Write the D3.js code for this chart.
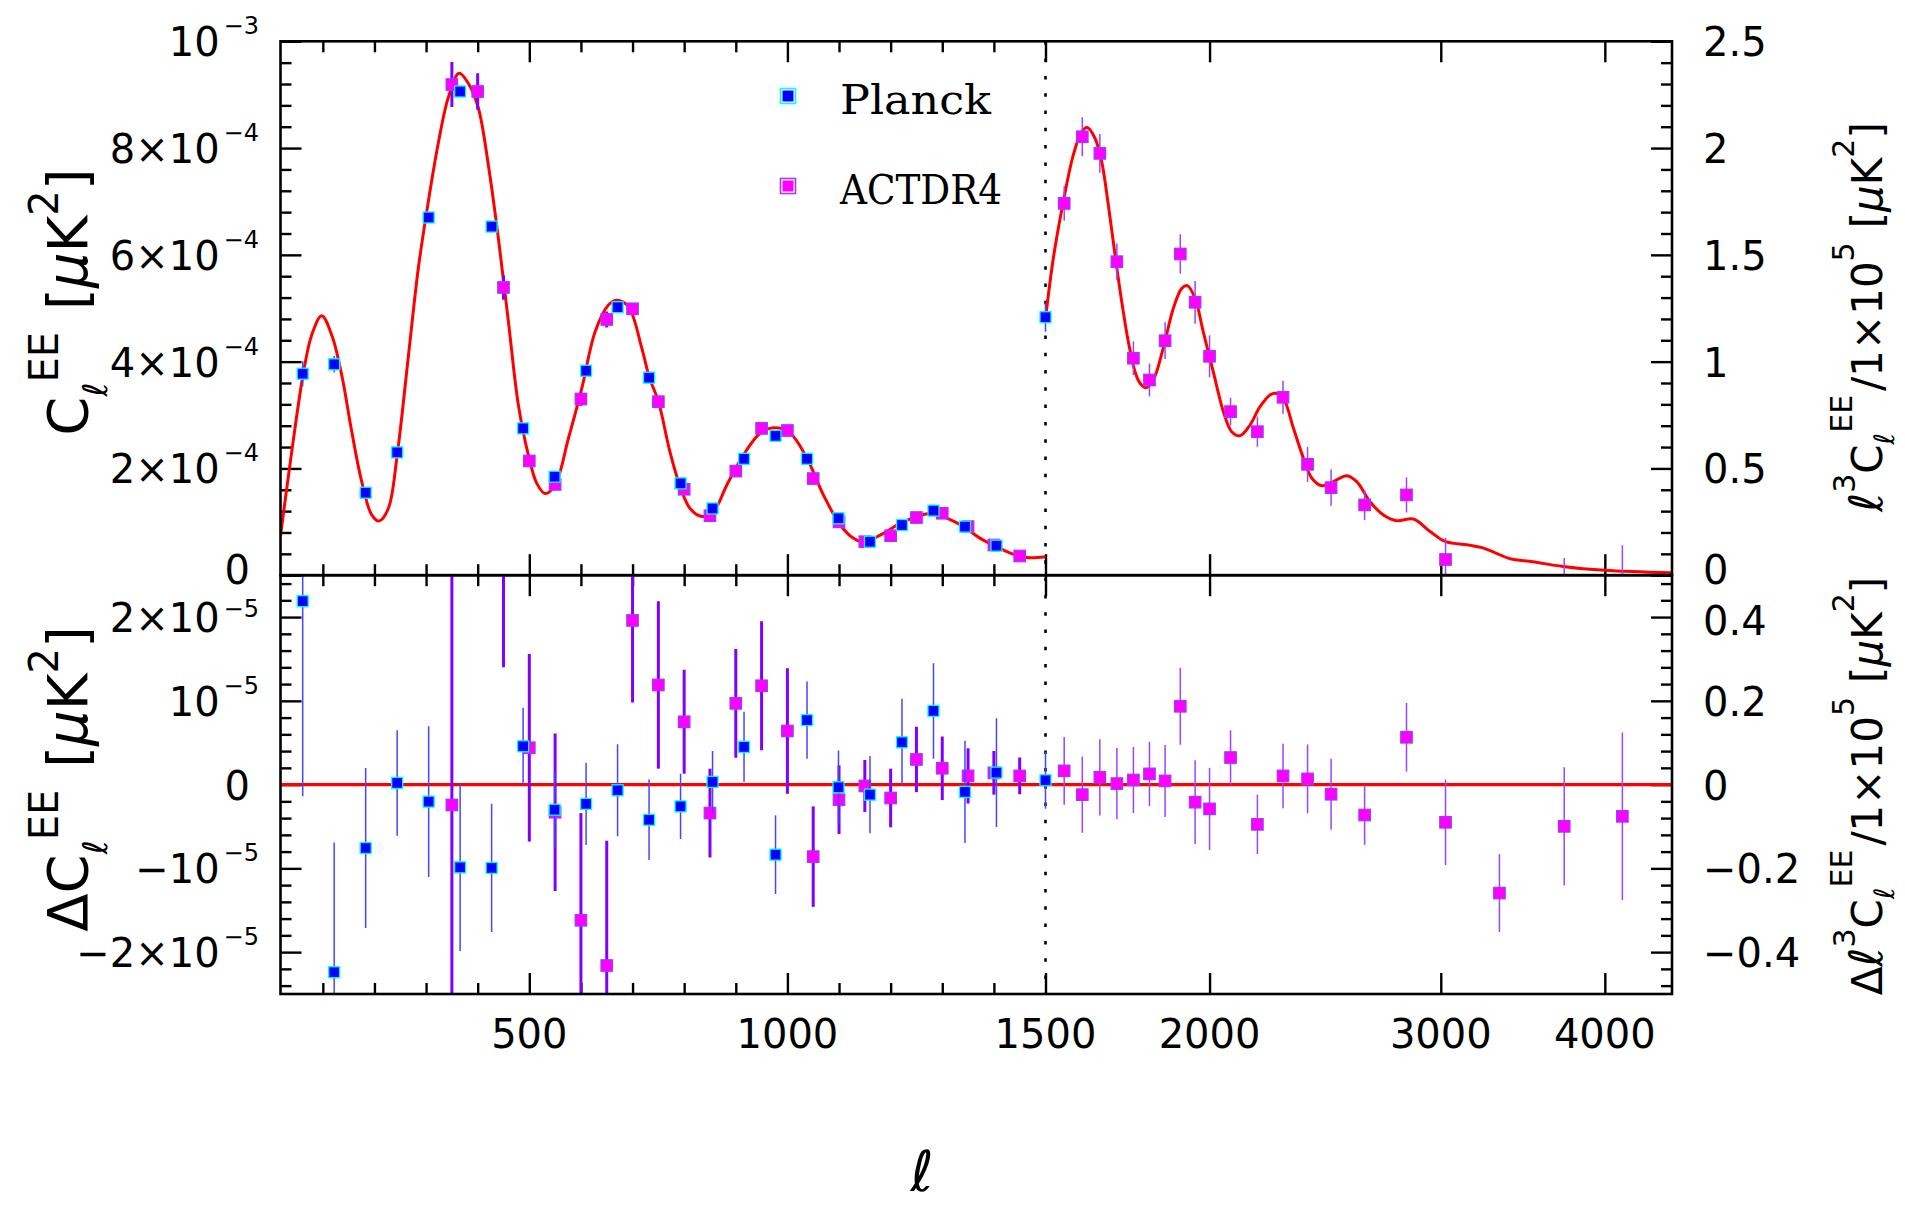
<!DOCTYPE html>
<html>
<head>
<meta charset="utf-8">
<script src="https://cdn.jsdelivr.net/npm/d3@7"></script>
<style>
  body { margin: 0; background: #fff; }
  svg { display: block; }
  text { font-family: "DejaVu Sans", sans-serif; fill: #000; }
</style>
</head>
<body>
<svg id="chart" width="1905" height="1205"></svg>
<script>
// ---------------- data ----------------
// Low-ell part (ell < 1500): C_ell^EE in units of 1e-4 uK^2, residuals and errors in 1e-5 uK^2.
const planckEll = [61,122,183,244,305,366,427,488,549,610,671,732,793,855,916,977,1038,1099,1160,1222,1283,1344,1405];
const planckCl  = [3.774,3.95,1.545,2.30,6.70,9.06,6.53,2.75,1.845,3.83,5.02,3.70,1.72,1.25,2.18,2.61,2.18,1.066,0.627,0.94,1.21,0.91,0.553];
const planckErr = [2.33,1.55,0.956,0.63,0.90,1.0,0.765,0.46,0.45,0.49,0.55,0.48,0.39,0.37,0.42,0.47,0.46,0.44,0.46,0.52,0.57,0.61,0.65];
const planckRes = [2.19,-2.24,-0.757,0.02,-0.203,-0.988,-0.995,0.458,-0.30,-0.23,-0.068,-0.42,-0.26,0.032,0.45,-0.836,0.77,-0.032,-0.12,0.505,0.88,-0.087,0.143];

const actEll = [350,400,450,500,550,600,650,700,750,800,850,900,950,1000,1050,1100,1150,1200,1250,1300,1350,1400,1450];
const actCl  = [9.19,9.06,5.39,2.14,1.70,3.30,4.79,4.99,3.25,1.61,1.115,1.95,2.75,2.71,1.81,1.00,0.627,0.74,1.08,1.16,0.91,0.566,0.36];
const actErr = [4.2,3.4,2.3,1.12,0.94,1.28,1.49,0.98,1.0,0.62,0.53,0.65,0.77,0.75,0.60,0.41,0.31,0.35,0.39,0.38,0.33,0.26,0.22];
const actRes = [-0.243,null,3.7,0.44,-0.33,-1.62,-2.16,1.96,1.19,0.75,-0.34,0.97,1.18,0.64,-0.86,-0.18,-0.016,-0.16,0.30,0.195,0.104,0.14,0.104];

// High-ell part (ell >= 1500): ell^3 C_ell^EE / 1e5 in uK^2.
const planckHiEll = [1500];
const planckHiVal = [1.208];
const planckHiErr = [0.068];
const planckHiRes = [0.0103];

const actHiEll = [1550,1600,1650,1700,1750,1800,1850,1900,1950,2000,2075,2175,2275,2375,2475,2625,2825,3025,3325,3725,4125];
const actHiVal = [1.741,2.053,1.975,1.468,1.016,0.914,1.098,1.504,1.278,1.025,0.766,0.672,0.833,0.519,0.410,0.329,0.376,0.0735,-0.16,-0.06,-0.06];
const actHiErr = [0.081,0.091,0.091,0.085,0.079,0.077,0.086,0.092,0.10,0.098,0.065,0.071,0.077,0.082,0.085,0.071,0.082,0.102,0.093,0.141,0.20];
const actHiRes = [0.0328,-0.024,0.0175,0.0024,0.011,0.0256,0.0088,0.187,-0.042,-0.058,0.0646,-0.095,0.0208,0.0136,-0.023,-0.0726,0.113,-0.090,-0.259,-0.0997,-0.0758];

// Best-fit model curve
const modelLoEll = [18,39.7,62.2,78.5,97.8,117.2,136.6,156,175.4,194.7,208.9,226.9,244.4,265.7,285,304.4,323.8,343.2,363.9,382,401.3,420.7,440.1,459.5,478.8,498.2,514.5,530.6,550,575.7,601.7,627.5,653.3,669.6,692,718,732.7,750.2,772.7,792.2,811.5,834.3,856.8,882.7,914.9,947.3,976.3,1005.4,1037.8,1069.9,1102.3,1128,1147.5,1179.8,1218.6,1250.9,1280,1309,1341.3,1373.6,1405.9,1438.2,1464.1,1500];
const modelLoCl  = [0.74,2.31,3.78,4.50,4.86,4.50,3.75,2.69,1.75,1.13,1.015,1.25,2.28,4.10,5.75,7.00,8.10,8.95,9.40,9.21,8.75,7.68,6.31,4.75,3.19,2.25,1.72,1.53,1.69,2.56,3.50,4.56,5.06,5.15,5.03,4.25,3.70,3.25,2.30,1.66,1.25,1.10,1.19,1.69,2.25,2.66,2.76,2.66,2.19,1.50,0.94,0.69,0.62,0.75,0.97,1.10,1.16,1.07,0.91,0.69,0.53,0.39,0.33,0.345];
const modelHiEll = [1500,1520.7,1547.6,1575,1598.4,1614,1636,1655.4,1674.7,1694.6,1714.5,1734.5,1755,1770.5,1789,1812,1844,1877,1905,1923.5,1949.7,1978,2013,2049,2079,2110,2147,2185,2224,2243.5,2276,2317,2358,2393,2435,2485,2544,2589,2650,2713,2777,2859,2944,3023,3157,3230,3300,3389,3525,3716,4000,4500];
const modelHiVal = [1.20,1.484,1.749,1.968,2.077,2.096,2.046,1.936,1.734,1.499,1.281,1.093,0.953,0.899,0.878,0.914,1.063,1.250,1.343,1.356,1.297,1.140,0.953,0.766,0.672,0.653,0.703,0.789,0.844,0.852,0.828,0.688,0.547,0.454,0.419,0.438,0.466,0.438,0.344,0.282,0.255,0.263,0.205,0.158,0.140,0.128,0.105,0.077,0.063,0.041,0.023,0.011];

// Axis ticks and labels
const xMajorLin = [500, 1000, 1500];
const xMinorLin = [100,200,300,400,600,700,800,900,1100,1200,1300,1400];
const xMajorLog = [2000, 3000, 4000];
const xLabels = [[500,"500"],[1000,"1000"],[1500,"1500"],[2000,"2000"],[3000,"3000"],[4000,"4000"]];

const topLeftMajor = [0,2,4,6,8,10];
const topLeftMinor = [0.4,0.8,1.2,1.6,2.4,2.8,3.2,3.6,4.4,4.8,5.2,5.6,6.4,6.8,7.2,7.6,8.4,8.8,9.2,9.6];
const topLeftLabels = [[0,"0",""],[2,"2×10","−4"],[4,"4×10","−4"],[6,"6×10","−4"],[8,"8×10","−4"],[10,"10","−3"]];
const topRightMajor = [0,0.5,1,1.5,2,2.5];
const topRightMinor = [0.1,0.2,0.3,0.4,0.6,0.7,0.8,0.9,1.1,1.2,1.3,1.4,1.6,1.7,1.8,1.9,2.1,2.2,2.3,2.4];
const topRightLabels = [[0,"0"],[0.5,"0.5"],[1,"1"],[1.5,"1.5"],[2,"2"],[2.5,"2.5"]];

const botLeftMajor = [-2,-1,0,1,2];
const botLeftMinor = [-2.4,-2.2,-1.8,-1.6,-1.4,-1.2,-0.8,-0.6,-0.4,-0.2,0.2,0.4,0.6,0.8,1.2,1.4,1.6,1.8,2.2,2.4];
const botLeftLabels = [[-2,"−2×10","−5"],[-1,"−10","−5"],[0,"0",""],[1,"10","−5"],[2,"2×10","−5"]];
const botRightMajor = [-0.4,-0.2,0,0.2,0.4];
const botRightMinor = [-0.48,-0.44,-0.36,-0.32,-0.28,-0.24,-0.16,-0.12,-0.08,-0.04,0.04,0.08,0.12,0.16,0.24,0.28,0.32,0.36,0.44,0.48];
const botRightLabels = [[-0.4,"−0.4"],[-0.2,"−0.2"],[0,"0"],[0.2,"0.2"],[0.4,"0.4"]];

// ---------------- layout ----------------
const X0 = 280.5, XB = 1045.5, X1 = 1672;
const YT = 41.3, YM = 575.2, YB = 994;
const MAJ = 21, MIN = 11;

const xLin = d3.scaleLinear().domain([18, 1500]).range([X0, XB]);
const xLog = d3.scaleLog().domain([1500, 4500]).range([XB, X1]);
const yTopL = d3.scaleLinear().domain([0, 10]).range([YM, YT]);
const yTopR = d3.scaleLinear().domain([0, 2.5]).range([YM, YT]);
const yBotL = d3.scaleLinear().domain([-2.5, 2.5]).range([YB, YM]);
const yBotR = d3.scaleLinear().domain([-0.5, 0.5]).range([YB, YM]);

const svg = d3.select("#chart");
svg.append("rect").attr("width", 1905).attr("height", 1205).attr("fill", "#fff");

const defs = svg.append("defs");
defs.append("clipPath").attr("id", "clipTop").append("rect")
  .attr("x", X0).attr("y", YT).attr("width", X1 - X0).attr("height", YM - YT);
defs.append("clipPath").attr("id", "clipBot").append("rect")
  .attr("x", X0).attr("y", YM).attr("width", X1 - X0).attr("height", YB - YM);

// ---------------- ticks ----------------
function tickGroup(axis, tr) {
  svg.append("g").attr("transform", tr)
    .call(axis.tickFormat(""))
    .call(g => {
      g.select(".domain").remove();
      g.selectAll("line").attr("stroke", "#000").attr("stroke-width", 2.4);
      g.selectAll("text").remove();
    });
}
// horizontal edges: top of upper panel, shared middle edge (both panels), bottom of lower panel
[[d3.axisTop, YT], [d3.axisBottom, YM], [d3.axisTop, YM], [d3.axisBottom, YB]].forEach(([ax, y]) => {
  tickGroup(ax(xLin).tickValues(xMajorLin).tickSize(-MAJ), `translate(0,${y})`);
  tickGroup(ax(xLin).tickValues(xMinorLin).tickSize(-MIN), `translate(0,${y})`);
  tickGroup(ax(xLog).tickValues(xMajorLog).tickSize(-MAJ), `translate(0,${y})`);
});
tickGroup(d3.axisLeft(yTopL).tickValues(topLeftMajor).tickSize(-MAJ), `translate(${X0},0)`);
tickGroup(d3.axisLeft(yTopL).tickValues(topLeftMinor).tickSize(-MIN), `translate(${X0},0)`);
tickGroup(d3.axisRight(yTopR).tickValues(topRightMajor).tickSize(-MAJ), `translate(${X1},0)`);
tickGroup(d3.axisRight(yTopR).tickValues(topRightMinor).tickSize(-MIN), `translate(${X1},0)`);
tickGroup(d3.axisLeft(yBotL).tickValues(botLeftMajor).tickSize(-MAJ), `translate(${X0},0)`);
tickGroup(d3.axisLeft(yBotL).tickValues(botLeftMinor).tickSize(-MIN), `translate(${X0},0)`);
tickGroup(d3.axisRight(yBotR).tickValues(botRightMajor).tickSize(-MAJ), `translate(${X1},0)`);
tickGroup(d3.axisRight(yBotR).tickValues(botRightMinor).tickSize(-MIN), `translate(${X1},0)`);

// divider between the linear and logarithmic ell ranges
svg.append("line")
  .attr("x1", xLin(1500)).attr("x2", xLin(1500)).attr("y1", YT).attr("y2", YB)
  .attr("stroke", "#000").attr("stroke-width", 2.6).attr("stroke-dasharray", "3.5 13.8");

// ---------------- plotting helpers ----------------
const smooth = d3.curveCatmullRom.alpha(0.5);
function errBars(layer, xs, vals, errs, xScale, yScale, color, width) {
  const d = xs.map((x, i) => [x, vals[i], errs[i]]).filter(p => p[1] !== null);
  layer.append("g").selectAll("line").data(d).join("line")
    .attr("x1", p => xScale(p[0])).attr("x2", p => xScale(p[0]))
    .attr("y1", p => yScale(p[1] - p[2])).attr("y2", p => yScale(p[1] + p[2]))
    .attr("stroke", color).attr("stroke-width", width);
}
function squares(layer, xs, vals, xScale, yScale, size, fill, stroke, sw) {
  const d = xs.map((x, i) => [x, vals[i]]).filter(p => p[1] !== null);
  layer.append("g").selectAll("rect").data(d).join("rect")
    .attr("x", p => xScale(p[0]) - size / 2).attr("y", p => yScale(p[1]) - size / 2)
    .attr("width", size).attr("height", size)
    .attr("fill", fill).attr("stroke", stroke).attr("stroke-width", sw);
}

const PL_FILL = "#0000ff", PL_EDGE = "#00ffff", PL_BAR = "#4646ff";
const ACT_FILL = "#ff00ff", ACT_EDGE = "#9a3cff", ACT_BAR = "#8000ff", ACT_BAR_HI = "#9a44ff";

// ---------------- upper panel ----------------
const upperPanel = svg.append("g").attr("clip-path", "url(#clipTop)");
upperPanel.append("path")
  .datum(modelLoEll.map((l, i) => [l, modelLoCl[i]]))
  .attr("d", d3.line().x(d => xLin(d[0])).y(d => yTopL(d[1])).curve(smooth))
  .attr("fill", "none").attr("stroke", "#ff0000").attr("stroke-width", 3);
upperPanel.append("path")
  .datum(modelHiEll.map((l, i) => [l, modelHiVal[i]]))
  .attr("d", d3.line().x(d => xLog(d[0])).y(d => yTopR(d[1])).curve(smooth))
  .attr("fill", "none").attr("stroke", "#ff0000").attr("stroke-width", 3);

errBars(upperPanel, actEll, actCl, actErr.map(e => e / 10), xLin, yTopL, ACT_BAR, 3);
errBars(upperPanel, actHiEll, actHiVal, actHiErr, xLog, yTopR, ACT_BAR_HI, 1.5);
squares(upperPanel, actEll, actCl, xLin, yTopL, 11.5, ACT_FILL, ACT_EDGE, 1.2);
squares(upperPanel, actHiEll, actHiVal, xLog, yTopR, 11.5, ACT_FILL, ACT_EDGE, 1.2);
errBars(upperPanel, planckEll, planckCl, planckErr.map(e => e / 10), xLin, yTopL, PL_BAR, 1.5);
errBars(upperPanel, planckHiEll, planckHiVal, planckHiErr, xLog, yTopR, PL_BAR, 1.5);
squares(upperPanel, planckEll, planckCl, xLin, yTopL, 11, PL_FILL, PL_EDGE, 1.3);
squares(upperPanel, planckHiEll, planckHiVal, xLog, yTopR, 11, PL_FILL, PL_EDGE, 1.3);

// ---------------- lower panel ----------------
const lowerPanel = svg.append("g").attr("clip-path", "url(#clipBot)");
lowerPanel.append("line")
  .attr("x1", X0).attr("x2", X1).attr("y1", yBotL(0)).attr("y2", yBotL(0))
  .attr("stroke", "#ff0000").attr("stroke-width", 3.2);
errBars(lowerPanel, actEll, actRes, actErr, xLin, yBotL, ACT_BAR, 3);
errBars(lowerPanel, actHiEll, actHiRes, actHiErr, xLog, yBotR, ACT_BAR_HI, 1.5);
squares(lowerPanel, actEll, actRes, xLin, yBotL, 11.5, ACT_FILL, ACT_EDGE, 1.2);
squares(lowerPanel, actHiEll, actHiRes, xLog, yBotR, 11.5, ACT_FILL, ACT_EDGE, 1.2);
errBars(lowerPanel, planckEll, planckRes, planckErr, xLin, yBotL, PL_BAR, 1.5);
errBars(lowerPanel, planckHiEll, planckHiRes, planckHiErr, xLog, yBotR, PL_BAR, 1.5);
squares(lowerPanel, planckEll, planckRes, xLin, yBotL, 11, PL_FILL, PL_EDGE, 1.3);
squares(lowerPanel, planckHiEll, planckHiRes, xLog, yBotR, 11, PL_FILL, PL_EDGE, 1.3);

// ---------------- frames ----------------
svg.append("rect").attr("x", X0).attr("y", YT).attr("width", X1 - X0).attr("height", YM - YT)
  .attr("fill", "none").attr("stroke", "#000").attr("stroke-width", 2.6);
svg.append("rect").attr("x", X0).attr("y", YM).attr("width", X1 - X0).attr("height", YB - YM)
  .attr("fill", "none").attr("stroke", "#000").attr("stroke-width", 2.6);

// ---------------- tick labels ----------------
const LBL = 40, SUP = 24;
function expLabel(y, main, sup, dyMain, dySup) {
  const t = svg.append("text").attr("text-anchor", "end").attr("font-size", LBL)
    .attr("x", sup ? 259 : 250).attr("y", y + dyMain);
  t.append("tspan").text(main);
  if (sup) t.append("tspan").attr("font-size", SUP).attr("dx", 4).attr("dy", dySup).text(sup);
}
topLeftLabels.forEach(([v, m, s]) => expLabel(yTopL(v), m, s, v === 0 ? 9 : 15, -22));
botLeftLabels.forEach(([v, m, s]) => expLabel(yBotL(v), m, s, 15, v === 2 ? -15 : -22));
topRightLabels.forEach(([v, s]) => svg.append("text").attr("font-size", LBL)
  .attr("x", 1703).attr("y", yTopR(v) + (v === 0 ? 9 : 15)).text(s));
botRightLabels.forEach(([v, s]) => svg.append("text").attr("font-size", LBL)
  .attr("x", 1703).attr("y", yBotR(v) + (v === 0.4 ? 18 : 15)).text(s));
xLabels.forEach(([v, s]) => svg.append("text").attr("font-size", LBL).attr("text-anchor", "middle")
  .attr("x", v > 1500 ? xLog(v) : xLin(v)).attr("y", 1048).text(s));

// ---------------- axis titles ----------------
function rotTitle(x, y, parts) {
  const t = svg.append("text").attr("text-anchor", "middle")
    .attr("transform", `translate(${x},${y}) rotate(-90)`);
  parts.forEach(([s, size, dy, opt]) => {
    const ts = t.append("tspan").attr("font-size", size).attr("dy", dy).text(s);
    if (opt && opt.italic) ts.attr("font-style", "italic");
    if (opt && opt.dx) ts.attr("dx", opt.dx);
  });
}
rotTitle(87, 302, [
  ["C", 56, 0], ["ℓ", 34, 20], ["EE", 40, -49],
  ["[", 56, 29, {dx: 22}], ["μ", 56, 0, {italic: true}], ["K", 56, 0], ["2", 40, -29], ["]", 56, 29]
]);
rotTitle(87, 779, [
  ["Δ", 56, 0], ["C", 56, 0], ["ℓ", 34, 20], ["EE", 40, -49],
  ["[", 56, 29, {dx: 22}], ["μ", 56, 0, {italic: true}], ["K", 56, 0], ["2", 40, -29], ["]", 56, 29]
]);
rotTitle(1882, 317, [
  ["ℓ", 46, 0, {italic: true}], ["3", 30, -27], ["C", 42, 27], ["ℓ", 28, 12], ["EE", 30, -42],
  ["/1×10", 42, 30, {dx: 4}], ["5", 30, -28], ["[", 42, 28, {dx: 14}], ["μ", 42, 0, {italic: true}],
  ["K", 42, 0], ["2", 30, -28], ["]", 42, 28]
]);
rotTitle(1882, 786, [
  ["Δ", 42, 0], ["ℓ", 46, 0, {italic: true}], ["3", 30, -27], ["C", 42, 27], ["ℓ", 28, 12], ["EE", 30, -42],
  ["/1×10", 42, 30, {dx: 4}], ["5", 30, -28], ["[", 42, 28, {dx: 14}], ["μ", 42, 0, {italic: true}],
  ["K", 42, 0], ["2", 30, -28], ["]", 42, 28]
]);
svg.append("text").attr("x", 922).attr("y", 1191).attr("text-anchor", "middle")
  .attr("font-size", 56).attr("font-style", "italic").text("ℓ");

// ---------------- legend ----------------
const legend = [
  ["Planck", 96, PL_FILL, PL_EDGE, 151],
  ["ACTDR4", 186, ACT_FILL, ACT_EDGE, 162]
];
legend.forEach(([name, cy, fill, edge, len]) => {
  svg.append("rect").attr("x", 788 - 7.5).attr("y", cy - 7.5).attr("width", 15).attr("height", 15)
    .attr("fill", "#fff").attr("stroke", edge).attr("stroke-width", 1.6);
  svg.append("rect").attr("x", 788 - 5.5).attr("y", cy - 5.5).attr("width", 11).attr("height", 11)
    .attr("fill", fill);
  svg.append("text").attr("x", 840).attr("y", cy + 17.5)
    .style("font-family", "'DejaVu Serif', serif").attr("font-size", 41)
    .attr("textLength", len).attr("lengthAdjust", "spacingAndGlyphs").text(name);
});
</script>
</body>
</html>
